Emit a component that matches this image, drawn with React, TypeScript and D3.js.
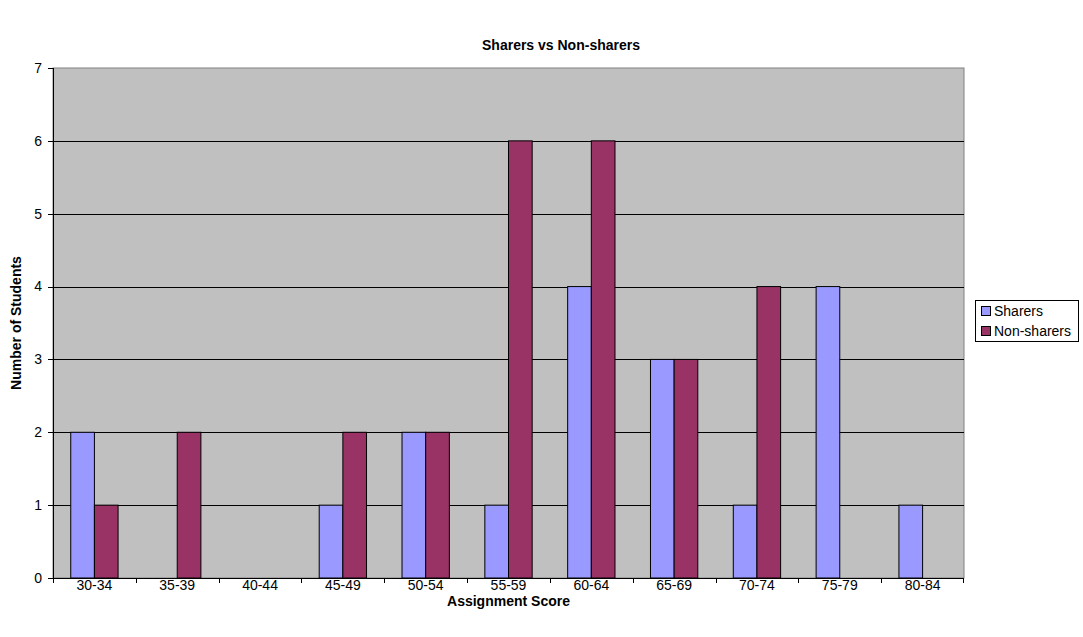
import React from "react";
import * as d3 from "d3";

const categories = ["30-34", "35-39", "40-44", "45-49", "50-54", "55-59", "60-64", "65-69", "70-74", "75-79", "80-84"];
const sharers = [2, 0, 0, 1, 2, 1, 4, 3, 1, 4, 1];
const nonSharers = [1, 2, 0, 2, 2, 6, 6, 3, 4, 0, 0];
const seriesNames = ["Sharers", "Non-sharers"];
const seriesColors = ["#9999FF", "#993366"];
const yTicks = [0, 1, 2, 3, 4, 5, 6, 7];

const W = 1083, H = 637;
const plot = { left: 53, right: 964, top: 68, bottom: 578 };
const FONT = "'Liberation Sans', Arial, sans-serif";

export default function App() {
  const x = d3.scaleBand<string>().domain(categories).range([plot.left, plot.right]).paddingInner(0).paddingOuter(0);
  const y = d3.scaleLinear().domain([0, 7]).range([plot.bottom, plot.top]);
  const bw = x.bandwidth();
  const barW = bw / 3.5;
  const offset = (bw - 2 * barW) / 2;
  const series = [sharers, nonSharers];

  return (
    <svg width={W} height={H} style={{ position: "absolute", left: 0, top: 0, background: "#fff" }} fontFamily={FONT}>
      <rect x={plot.left} y={plot.top} width={plot.right - plot.left} height={plot.bottom - plot.top} fill="#C0C0C0" stroke="#808080" strokeWidth={1} />
      {yTicks.filter(t => t > 0 && t < 7).map(t => (
        <line key={t} x1={plot.left} x2={plot.right} y1={Math.round(y(t)) + 0.5} y2={Math.round(y(t)) + 0.5} stroke="#000" strokeWidth={1} />
      ))}
      {series.map((vals, si) =>
        vals.map((v, ci) => v > 0 ? (
          <rect key={si + "-" + ci}
            x={(x(categories[ci]) as number) + offset + si * barW}
            y={y(v)} width={barW} height={y(0) - y(v)}
            fill={seriesColors[si]} stroke="#000" strokeWidth={1} />
        ) : null)
      )}
      <line x1={plot.left + 0.5} x2={plot.left + 0.5} y1={plot.top} y2={plot.bottom} stroke="#000" strokeWidth={1} />
      <line x1={plot.left} x2={plot.right} y1={plot.bottom + 0.5} y2={plot.bottom + 0.5} stroke="#000" strokeWidth={1} />
      {yTicks.map(t => (
        <g key={t}>
          <line x1={plot.left - 5} x2={plot.left} y1={Math.round(y(t)) + 0.5} y2={Math.round(y(t)) + 0.5} stroke="#000" />
          <text x={plot.left - 11} y={y(t)} dy="0.35em" textAnchor="end" fontSize={14} fill="#000">{t}</text>
        </g>
      ))}
      {categories.map((c, i) => (
        <line key={"t" + i} x1={Math.round(x(c) as number) + 0.5} x2={Math.round(x(c) as number) + 0.5} y1={plot.bottom} y2={plot.bottom + 5} stroke="#000" />
      ))}
      <line x1={plot.right - 0.5} x2={plot.right - 0.5} y1={plot.bottom} y2={plot.bottom + 5} stroke="#000" />
      {categories.map(c => (
        <text key={c} x={(x(c) as number) + bw / 2} y={590} textAnchor="middle" fontSize={14} fill="#000">{c}</text>
      ))}
      <text x={(plot.left + plot.right) / 2} y={606} textAnchor="middle" fontSize={14} fontWeight="bold" fill="#000">Assignment Score</text>
      <text transform={`translate(21,${(plot.top + plot.bottom) / 2}) rotate(-90)`} textAnchor="middle" fontSize={14} fontWeight="bold" fill="#000">Number of Students</text>
      <text x={561} y={50} textAnchor="middle" fontSize={14} fontWeight="bold" fill="#000">Sharers vs Non-sharers</text>
      <rect x={975.5} y={300.5} width={103} height={41} fill="#fff" stroke="#000" />
      {seriesNames.map((n, i) => (
        <g key={n}>
          <rect x={981.5} y={306.5 + i * 20} width={9} height={9} fill={seriesColors[i]} stroke="#000" />
          <text x={994} y={316 + i * 20} fontSize={14} fill="#000">{n}</text>
        </g>
      ))}
    </svg>
  );
}
